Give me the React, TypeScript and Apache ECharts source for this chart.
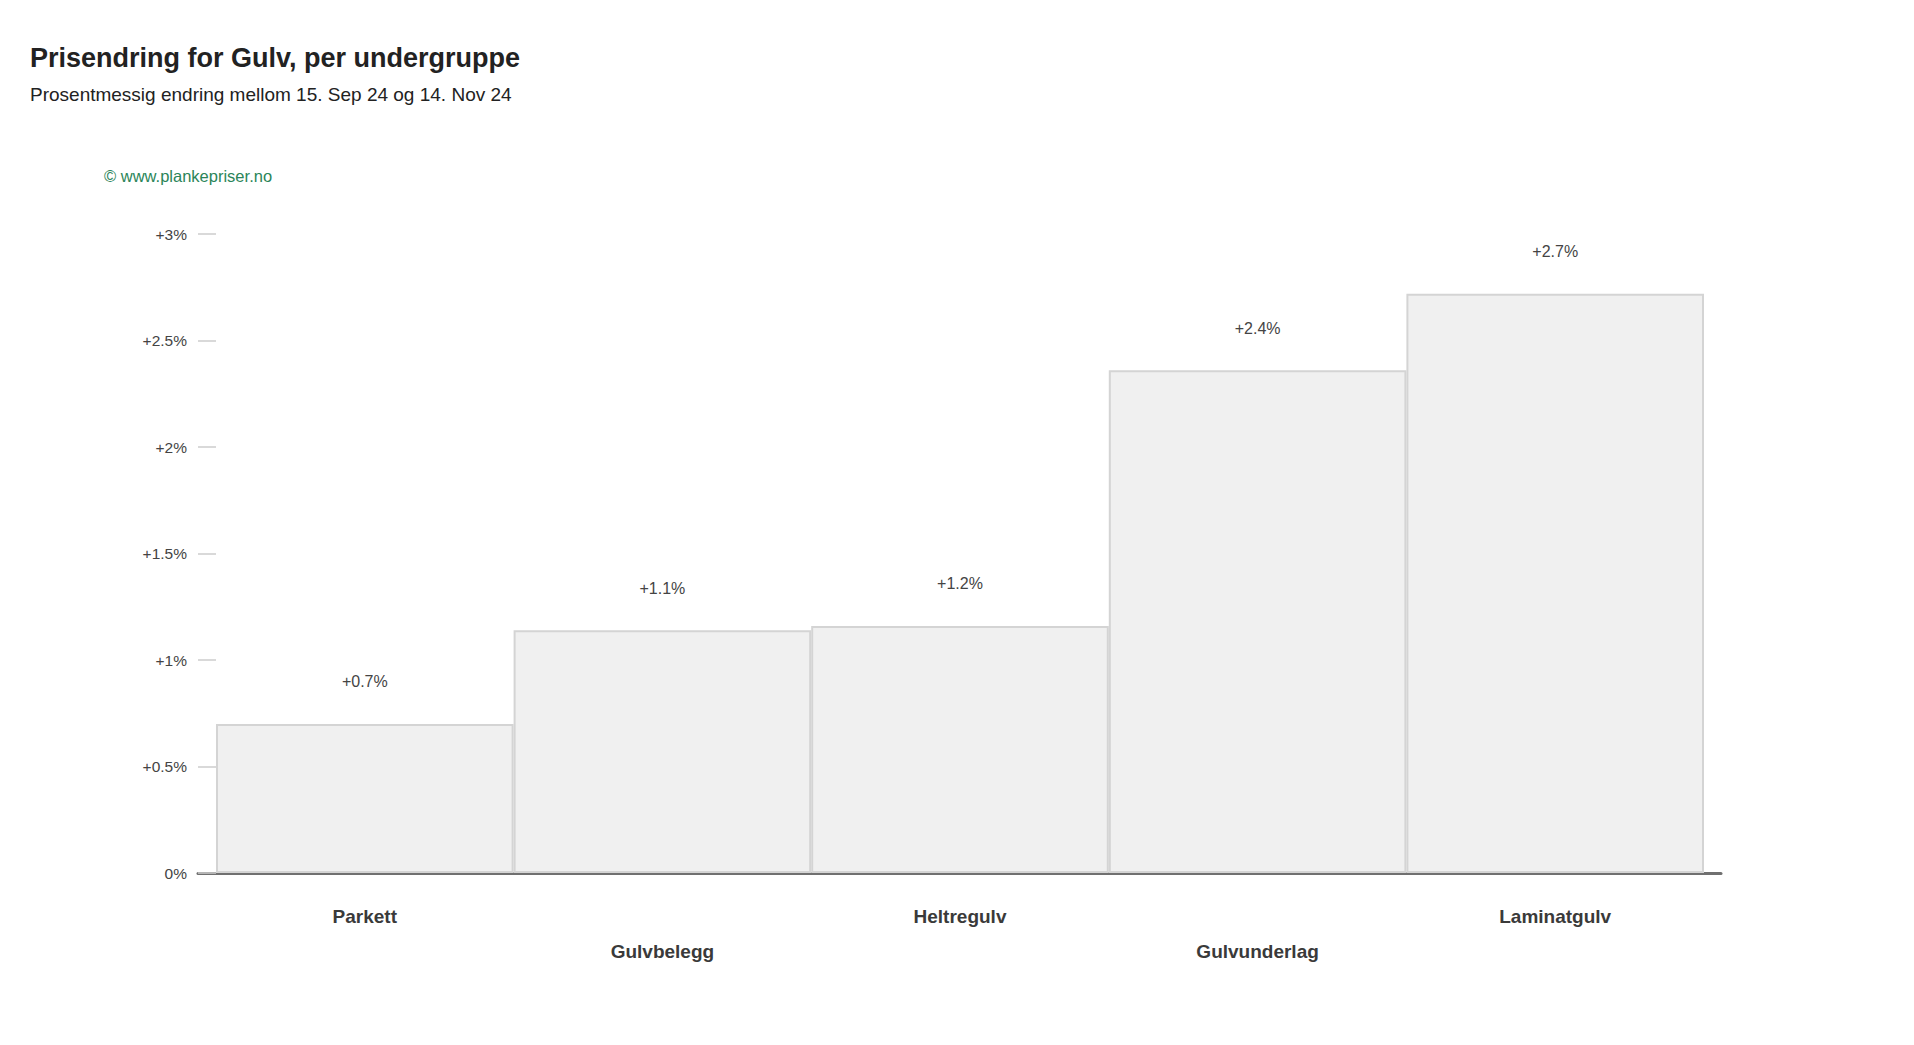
import React, { useEffect, useRef } from "react";
import * as echarts from "echarts";

const categories = ["Parkett", "Gulvbelegg", "Heltregulv", "Gulvunderlag", "Laminatgulv"];
const changes = [0.70, 1.14, 1.16, 2.36, 2.72];
const yTicks = { min: 0, max: 3, interval: 0.5 };

const FONT = "'Liberation Sans', Arial, sans-serif";

export default function App() {
  const ref = useRef<HTMLDivElement>(null);
  useEffect(() => {
    document.body.style.margin = "0";
    const chart = echarts.init(ref.current!, null, { renderer: "svg" });
    chart.setOption({
      animation: false,
      backgroundColor: "#ffffff",
      title: [
        {
          text: "Prisendring for Gulv, per undergruppe",
          left: 30,
          top: 44,
          padding: 0,
          textStyle: { fontFamily: FONT, fontSize: 27, fontWeight: "bold", color: "#222" },
        },
        {
          text: "Prosentmessig endring mellom 15. Sep 24 og 14. Nov 24",
          left: 30,
          top: 85,
          padding: 0,
          textStyle: { fontFamily: FONT, fontSize: 19, fontWeight: "normal", color: "#222" },
        },
        {
          text: "© www.plankepriser.no",
          left: 104,
          top: 167,
          padding: 0,
          textStyle: { fontFamily: FONT, fontSize: 16.5, fontWeight: "normal", color: "#2b8559" },
        },
      ],
      grid: [
        { left: 216, right: 210, top: 234, bottom: 172 },
        { left: 198, right: 193, top: 234, bottom: 172 },
      ],
      xAxis: [
        {
          type: "category",
          gridIndex: 0,
          data: categories,
          axisLine: { show: false },
          axisTick: { show: false },
          axisLabel: {
            interval: 0,
            margin: 26,
            fontFamily: FONT,
            fontSize: 19,
            fontWeight: "bold",
            color: "#3a3a3a",
            lineHeight: 35,
            formatter: (v: string, i: number) => (i % 2 === 1 ? "\n" + v : v),
          },
        },
        {
          type: "value",
          gridIndex: 1,
          min: 0,
          max: 1,
          axisLine: { show: true, lineStyle: { color: "#707070", width: 3 } },
          axisTick: { show: false },
          axisLabel: { show: false },
          splitLine: { show: false },
        },
      ],
      yAxis: [
        {
          type: "value",
          gridIndex: 0,
          min: yTicks.min,
          max: yTicks.max,
          interval: yTicks.interval,
          axisLine: { show: false },
          axisTick: { show: true, length: 18, lineStyle: { color: "#cccccc", width: 1.5 } },
          splitLine: { show: false },
          axisLabel: {
            margin: 29,
            fontFamily: FONT,
            fontSize: 15.5,
            color: "#444",
            formatter: (v: number) => (v === 0 ? "0%" : "+" + v + "%"),
          },
        },
        {
          type: "value",
          gridIndex: 1,
          min: 0,
          max: 3,
          show: false,
        },
      ],
      series: [
        {
          type: "bar",
          xAxisIndex: 0,
          yAxisIndex: 0,
          data: changes,
          barCategoryGap: "0%",
          itemStyle: { color: "#f0f0f0", borderColor: "#d4d4d4", borderWidth: 2 },
          label: {
            show: true,
            position: "top",
            distance: 34,
            fontFamily: FONT,
            fontSize: 16,
            color: "#444",
            formatter: (p: any) => "+" + Number(p.value).toFixed(1) + "%",
          },
        },
      ],
    });
    return () => chart.dispose();
  }, []);
  return <div ref={ref} style={{ width: 1914, height: 1045 }} />;
}
